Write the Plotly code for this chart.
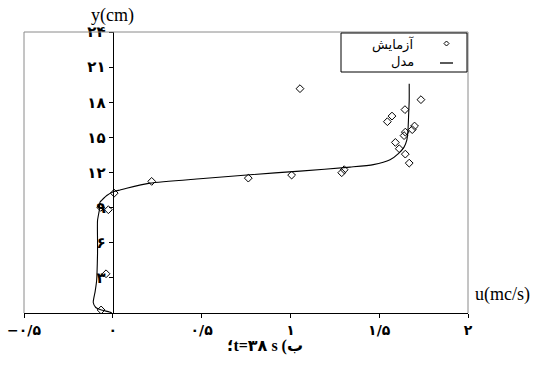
import plotly.graph_objects as go

# ---- data ----
exp_u = [1.735, 1.645, 1.572, 1.546, 1.699, 1.686, 1.647, 1.640, 1.591, 1.613, 1.647, 1.669,
         1.054, 0.763, 1.007, 1.289, 1.303, 0.219, 0.008, -0.025, -0.068, -0.038, -0.066]
exp_y = [18.22, 17.37, 16.82, 16.34, 15.97, 15.66, 15.45, 15.15, 14.57, 14.03, 13.57, 12.80,
         19.16, 11.52, 11.78, 11.98, 12.24, 11.24, 10.24, 8.82, 9.02, 3.35, 0.26]

model_u = [-0.005, -0.019, -0.068, -0.096, -0.110, -0.100, -0.091, -0.089, -0.086, -0.086,
           -0.086, -0.076, -0.072, -0.063, -0.034, 0.003, 0.041, 0.078, 0.209, 0.491, 0.773,
           1.054, 1.336, 1.467, 1.561, 1.608, 1.640, 1.655, 1.662, 1.666, 1.669, 1.669]
model_y = [0.0, 0.085, 0.27, 0.47, 0.90, 1.78, 2.78, 3.35, 5.06, 6.20, 7.91, 8.76, 9.47, 9.62,
           10.04, 10.36, 10.51, 10.66, 11.09, 11.47, 11.81, 12.12, 12.46, 12.67, 13.08, 13.61,
           14.17, 14.74, 15.60, 17.03, 18.16, 19.59]

x_tickvals = [-0.5, 0, 0.5, 1, 1.5, 2]
x_ticktext = ["\u2212\u06f0/\u06f5", "\u06f0", "\u06f0/\u06f5", "\u06f1", "\u06f1/\u06f5", "\u06f2"]
y_tickvals = [3, 6, 9, 12, 15, 18, 21, 24]
y_ticktext = ["\u06f3", "\u06f6", "\u06f9", "\u06f1\u06f2", "\u06f1\u06f5", "\u06f1\u06f8", "\u06f2\u06f1", "\u06f2\u06f4"]

legend_exp = "آزمایش"
legend_model = "مدل"
caption = "؛t=۳۸ s (ب"

# ---- figure ----
W, H = 536, 370
L, R, T, B = 24, 68, 32, 57
pw, ph = W - L - R, H - T - B

def px(xp):
    return (xp - L) / pw

def py(yp):
    return (H - B - yp) / ph

fig = go.Figure()
fig.add_trace(go.Scatter(x=model_u, y=model_y, mode="lines",
                         line=dict(color="black", width=1.1, shape="spline", smoothing=0.6),
                         showlegend=False, hoverinfo="skip"))
fig.add_trace(go.Scatter(x=exp_u, y=exp_y, mode="markers",
                         marker=dict(symbol="diamond-open", size=6, color="black",
                                     line=dict(width=1, color="black")),
                         cliponaxis=False, showlegend=False))

fig.update_layout(
    width=W, height=H,
    margin=dict(l=L, r=R, t=T, b=B, pad=0, autoexpand=False),
    paper_bgcolor="white", plot_bgcolor="white",
    xaxis=dict(range=[-0.5, 2], tickvals=x_tickvals, ticktext=x_ticktext, automargin=False,
               showgrid=False, zeroline=False, showline=True, linecolor="black", linewidth=1,
               ticks="outside", ticklen=4, tickcolor="black",
               tickfont=dict(family="DejaVu Sans", size=14, color="black", weight="bold")),
    yaxis=dict(range=[0, 24], tickvals=y_tickvals, ticktext=y_ticktext, automargin=False,
               anchor="free", position=0.2,
               showgrid=False, zeroline=False, showline=True, linecolor="black", linewidth=1.3,
               ticks="outside", ticklen=4, tickcolor="black",
               tickfont=dict(family="DejaVu Sans", size=15, color="black", weight="bold")),
    font=dict(family="DejaVu Sans", color="black"),
)

gray = "#8a8a8a"
shapes = [
    dict(type="line", xref="paper", yref="paper", x0=0, x1=1, y0=1, y1=1, line=dict(color=gray, width=1)),
    dict(type="line", xref="paper", yref="paper", x0=0, x1=0, y0=0, y1=1, line=dict(color=gray, width=1)),
    dict(type="line", xref="paper", yref="paper", x0=1, x1=1, y0=0, y1=1, line=dict(color=gray, width=1)),
    # legend box
    dict(type="rect", xref="paper", yref="paper", x0=px(341), x1=px(467), y0=py(72), y1=py(33),
         line=dict(color="black", width=1), fillcolor="white"),
    dict(type="line", xref="paper", yref="paper", x0=px(440), x1=px(453), y0=py(63), y1=py(63),
         line=dict(color="black", width=1.3)),
]
cx, cy, d = 446.5, 43.5, 2.5
shapes.append(dict(type="path", xref="paper", yref="paper",
                   path=f"M {px(cx)},{py(cy-d)} L {px(cx+d)},{py(cy)} L {px(cx)},{py(cy+d)} L {px(cx-d)},{py(cy)} Z",
                   line=dict(color="black", width=1)))
fig.update_layout(shapes=shapes)

fig.add_annotation(xref="x", yref="paper", x=0, y=py(15), text="y(cm)", showarrow=False,
                   font=dict(family="Liberation Serif", size=18, color="black"), xanchor="center", yanchor="middle")
fig.add_annotation(xref="paper", yref="paper", x=px(473), y=py(294), text="u(mc/s)", showarrow=False,
                   font=dict(family="Liberation Serif", size=18, color="black"), xanchor="left", yanchor="middle")
fig.add_annotation(xref="paper", yref="paper", x=px(416), y=py(45), text=legend_exp, showarrow=False,
                   font=dict(family="DejaVu Sans", size=13, color="black"), xanchor="right", yanchor="middle")
fig.add_annotation(xref="paper", yref="paper", x=px(416), y=py(61), text=legend_model, showarrow=False,
                   font=dict(family="DejaVu Sans", size=13, color="black"), xanchor="right", yanchor="middle")
fig.add_annotation(xref="paper", yref="paper", x=px(265), y=py(346), text=caption, showarrow=False,
                   font=dict(family="Liberation Serif, DejaVu Sans", size=16, color="black", weight="bold"),
                   xanchor="center", yanchor="middle")

fig.write_html("out.html")
